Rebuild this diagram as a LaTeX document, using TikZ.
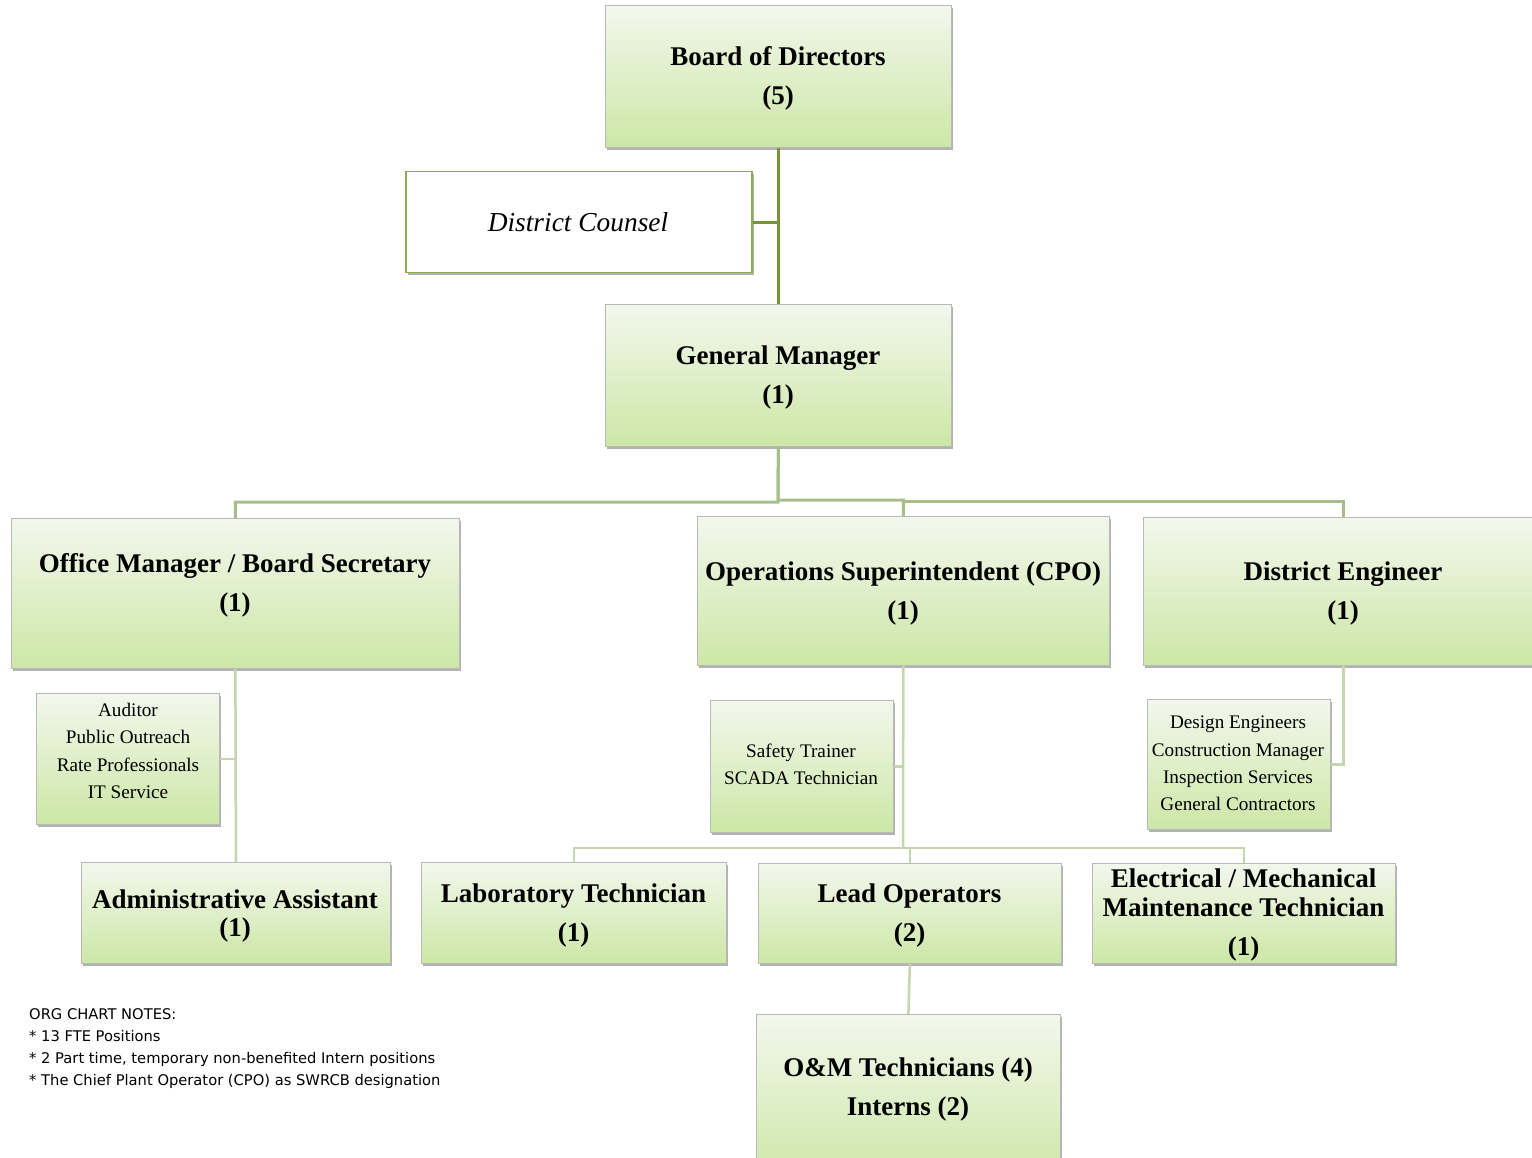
\documentclass[tikz,border=0pt]{standalone}
\usepackage{fontspec}
\setmainfont{Liberation Serif}
\newfontfamily\notesfont{DejaVu Sans}
\usetikzlibrary{shadows}
\definecolor{gtop}{RGB}{243,247,237}
\definecolor{gbot}{RGB}{204,231,166}
\definecolor{gedge}{RGB}{185,185,185}
\definecolor{darkln}{RGB}{119,147,60}
\definecolor{midln}{RGB}{168,190,138}
\definecolor{lightln}{RGB}{196,214,174}
\definecolor{counseledge}{RGB}{140,172,78}
\begin{document}
\begin{tikzpicture}[x=1pt,y=-1pt,
  gbox/.style={draw=gedge, line width=0.8pt, top color=gtop, bottom color=gbot,
    drop shadow={shadow xshift=2pt, shadow yshift=-2.5pt, fill=black, opacity=0.3},
    inner sep=0pt, anchor=north west, rectangle},
  wbox/.style={draw=counseledge, line width=1.5pt, fill=white,
    drop shadow={shadow xshift=2pt, shadow yshift=-2.5pt, fill=black, opacity=0.3},
    inner sep=0pt, anchor=north west, rectangle},
  title/.style={font=\fontsize{27}{39}\selectfont\bfseries, align=center, inner sep=0pt},
  small/.style={font=\fontsize{19.2}{27.4}\selectfont, align=center, inner sep=0pt},
  dline/.style={draw=darkln, line width=3pt},
  mline/.style={draw=midln, line width=3pt},
  lline/.style={draw=lightln, line width=2.5pt}]
\useasboundingbox (0,0) rectangle (1532,1158);
\clip (0,0) rectangle (1532,1158);

% boxes
\node[gbox, minimum width=346pt, minimum height=142pt] (bod) at (605,5) {};
\node[wbox, minimum width=346pt, minimum height=101pt] (counsel) at (405,171) {};
\node[gbox, minimum width=346pt, minimum height=142pt] (gm) at (605,304) {};
\node[gbox, minimum width=448pt, minimum height=150pt] (office) at (11,518) {};
\node[gbox, minimum width=412pt, minimum height=149pt] (ops) at (697,516) {};
\node[gbox, minimum width=400pt, minimum height=148pt] (de) at (1143,517) {};
\node[gbox, minimum width=183pt, minimum height=131pt] (aud) at (36,693) {};
\node[gbox, minimum width=309pt, minimum height=101pt] (admin) at (81,862) {};
\node[gbox, minimum width=183pt, minimum height=132pt] (safety) at (710,700) {};
\node[gbox, minimum width=183pt, minimum height=130pt] (design) at (1147,699) {};
\node[gbox, minimum width=305pt, minimum height=101pt] (lab) at (421,862) {};
\node[gbox, minimum width=303pt, minimum height=100pt] (lead) at (758,863) {};
\node[gbox, minimum width=303pt, minimum height=100pt] (elec) at (1092,863) {};
\node[gbox, minimum width=304pt, minimum height=170pt] (om) at (756,1014) {};

% connectors
\coordinate (busL) at (778,502);
\coordinate (busR) at (778,500);
\coordinate (busD) at (903,501);
\coordinate (opsbus) at (903,848);
\path[dline] (bod.south) -- (gm.north);
\path[dline] (counsel.east) -- (counsel.east -| bod.south);
\path[mline] (gm.south) -- (busL) -| (office.north);
\path[mline] (gm.south) -- (busR) -| (ops.north);
\path[mline] (busD) -| (de.north);
\path[lline] (office.south) -- (admin.north);
\path[lline] (aud.east) -- (aud.east -| office.south);
\path[lline] (ops.south) -- (opsbus);
\path[lline] (safety.east) -- (safety.east -| ops.south);
\path[lline] (lab.north) |- (opsbus) -| (elec.north);
\path[lline] (lead.north) -- (lead.north |- opsbus);
\path[lline] (de.south) |- (design.east);
\path[lline] (lead.south) -- (om.north);

% texts
\node[title] (bodT) at (778,78.5) {Board of Directors\\(5)};
\node[inner sep=0pt, font=\fontsize{27.4}{30}\selectfont\itshape] (counselT) at (578,222) {District Counsel};
\node[title] (gmT) at (778,377.5) {General Manager\\(1)};
\node[title] (officeT) at (235,585.5) {Office Manager / Board Secretary\\(1)};
\node[title] (opsT) at (903,593.5) {Operations Superintendent (CPO)\\(1)};
\node[title] (deT) at (1343,593.5) {District Engineer\\(1)};
\node[small] (audT) at (128,751) {Auditor\\Public Outreach\\Rate Professionals\\IT Service};
\node[title, font=\fontsize{27}{28}\selectfont\bfseries] (adminT) at (235,916) {Administrative Assistant\\(1)};
\node[small] (safetyT) at (801,764.5) {Safety Trainer\\SCADA Technician};
\node[small] (designT) at (1238,763.5) {Design Engineers\\Construction Manager\\Inspection Services\\General Contractors};
\node[title] (labT) at (573.5,915.5) {Laboratory Technician\\(1)};
\node[title] (leadT) at (909.5,915.5) {Lead Operators\\(2)};
\node[title, font=\fontsize{27}{29}\selectfont\bfseries] (elecT) at (1243.5,915) {Electrical / Mechanical\\Maintenance Technician\\[10pt](1)};
\node[title] (omT) at (908,1089.5) {O\&M Technicians (4)\\Interns (2)};

\node[anchor=north west, align=left, inner sep=0pt, font=\notesfont\fontsize{14.7}{22}\selectfont] (notes) at (29,1008)
 {ORG CHART NOTES:\\* 13 FTE Positions\\* 2 Part time, temporary non-benefited Intern positions\\* The Chief Plant Operator (CPO) as SWRCB designation};
\end{tikzpicture}
\end{document}
